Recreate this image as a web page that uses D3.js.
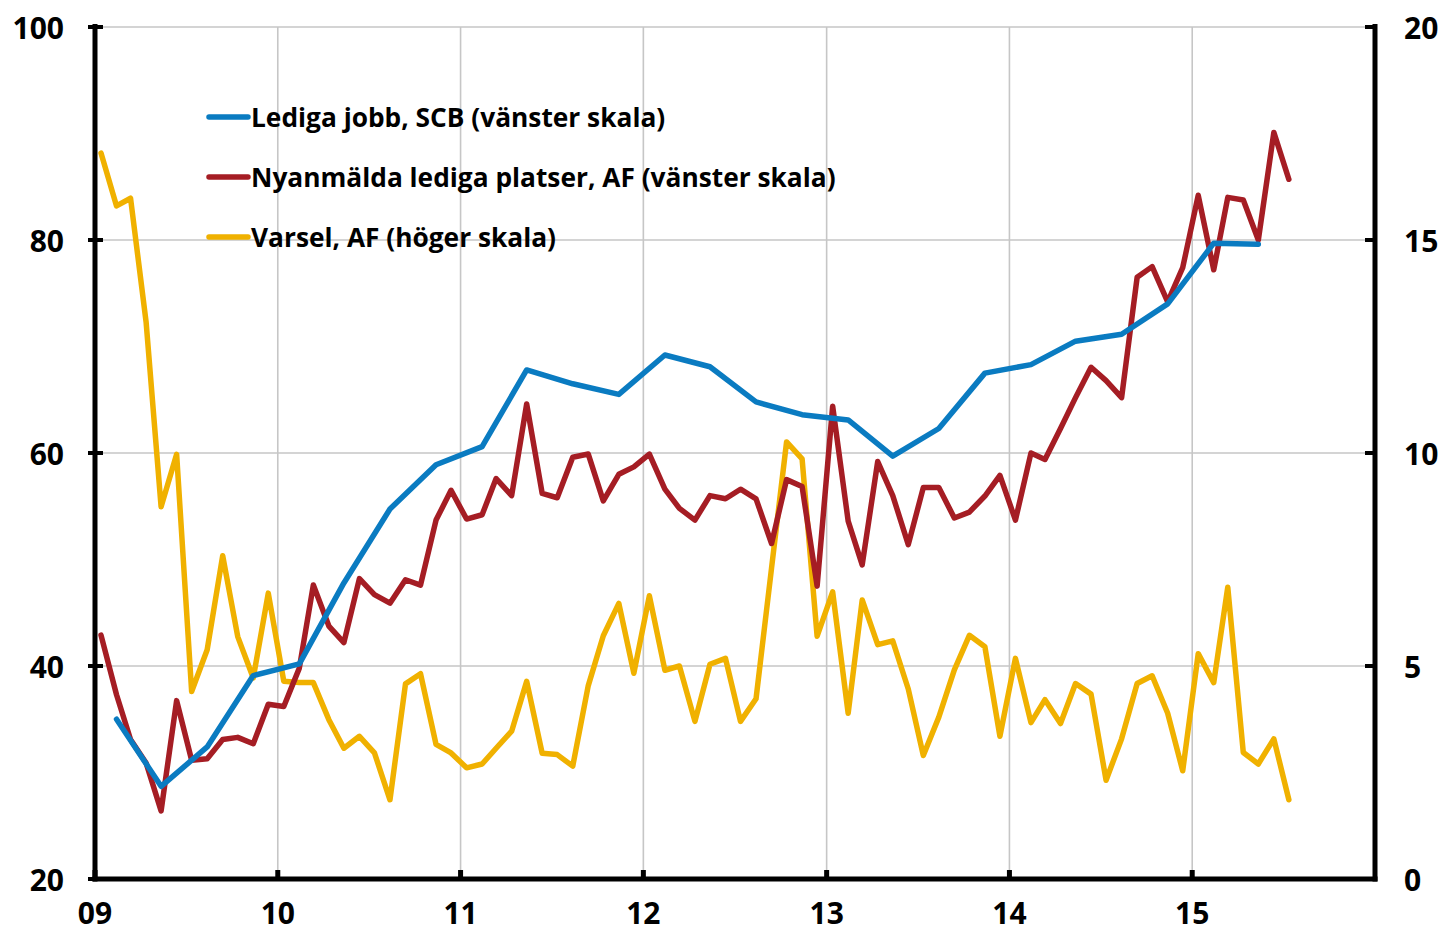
<!DOCTYPE html>
<html><head><meta charset="utf-8">
<script src="https://cdn.jsdelivr.net/npm/d3@7/dist/d3.min.js"></script>
<style>
html,body{margin:0;padding:0;background:#fff;}
svg{display:block;}
text{font-family:"Open Sans","Noto Sans",sans-serif;font-weight:700;fill:#000;}
</style></head>
<body>
<svg id="c" width="1444" height="933"></svg>
<script>
// ---- data ----
const startMonth = "2009-01";
const varsel = [17.04,15.8,15.98,13.08,8.74,9.97,4.4,5.38,7.59,5.69,4.72,6.71,
 4.64,4.61,4.61,3.74,3.07,3.35,2.96,1.86,4.58,4.82,3.16,2.96,
 2.61,2.70,3.07,3.47,4.64,2.95,2.92,2.65,4.54,5.71,6.47,4.83,
 6.65,4.9,5.0,3.70,5.04,5.18,3.70,4.23,7.3,10.26,9.86,5.7,
 6.74,3.89,6.55,5.5,5.59,4.46,2.9,3.8,4.91,5.72,5.45,3.35,
 5.18,3.67,4.21,3.65,4.59,4.34,2.32,3.29,4.59,4.77,3.89,2.54,
 5.29,4.61,6.85,2.97,2.70,3.29,1.86];
const nyanmalda = [42.9,37.3,33.1,30.9,26.4,36.75,31.15,31.3,33.1,33.3,32.7,36.4,
 36.2,39.8,47.6,43.75,42.2,48.2,46.7,45.9,48.1,47.6,53.7,56.5,
 53.8,54.2,57.6,56.0,64.6,56.2,55.8,59.6,59.9,55.5,58.0,58.7,
 59.9,56.6,54.8,53.7,56.0,55.7,56.6,55.7,51.5,57.5,56.85,47.5,
 64.4,53.6,49.5,59.2,56.0,51.4,56.75,56.75,53.9,54.45,55.96,57.9,
 53.7,60.0,59.4,62.3,65.2,68.05,66.8,65.2,76.5,77.5,74.2,77.4,
 84.2,77.2,84.0,83.75,80.0,90.1,85.7];
const quarters = ["2009Q1","2009Q2","2009Q3","2009Q4","2010Q1","2010Q2","2010Q3","2010Q4",
 "2011Q1","2011Q2","2011Q3","2011Q4","2012Q1","2012Q2","2012Q3","2012Q4",
 "2013Q1","2013Q2","2013Q3","2013Q4","2014Q1","2014Q2","2014Q3","2014Q4",
 "2015Q1","2015Q2"];
const lediga = [35.0,28.7,32.4,39.1,40.2,47.8,54.74,58.9,60.6,67.8,66.5,65.5,
 69.2,68.1,64.8,63.6,63.1,59.7,62.3,67.5,68.3,70.5,71.15,74.0,79.7,79.6];
const xTickLabels = ["09","10","11","12","13","14","15"];
const leftTicks = [20,40,60,80,100];
const rightTicks = [0,5,10,15,20];
const seriesNames = ["Lediga jobb, SCB (vänster skala)",
 "Nyanmälda lediga platser, AF (vänster skala)",
 "Varsel, AF (höger skala)"];
const colors = ["#0a7bc1","#a51d24","#f0b100"];

// ---- layout ----
const L = 95, R = 1375, T = 27, B = 879;
const svg = d3.select("#c");
const x = d3.scaleTime().domain([new Date(2009,0,1), new Date(2016,0,1)]).range([L,R]);
const yL = d3.scaleLinear().domain([20,100]).range([B,T]);
const yR = d3.scaleLinear().domain([0,20]).range([B,T]);

const [sy, sm] = startMonth.split("-").map(Number);
const monthDate = i => new Date(sy, sm-1+i, 13);
const quarterDate = q => { const y=+q.slice(0,4), n=+q.slice(5); return new Date(y,(n-1)*3+1,13); };

// gridlines
const years = d3.range(2010, 2016).map(yv => new Date(yv,0,1));
svg.append("g").selectAll("line").data(years).join("line")
  .attr("x1",d=>x(d)).attr("x2",d=>x(d)).attr("y1",T).attr("y2",B)
  .attr("stroke","#c6c6c6").attr("stroke-width",1.6);
svg.append("g").selectAll("line").data(leftTicks.filter(v=>v>20)).join("line")
  .attr("x1",L).attr("x2",R).attr("y1",d=>yL(d)).attr("y2",d=>yL(d))
  .attr("stroke","#c6c6c6").attr("stroke-width",1.6);

// series
const LW = 5.5;
const lineM = (vals, ys) => d3.line().x((d,i)=>x(monthDate(i))).y(d=>ys(d))(vals);
svg.append("path").attr("d", lineM(varsel, yR)).attr("fill","none")
  .attr("stroke",colors[2]).attr("stroke-width",LW).attr("stroke-linejoin","round").attr("stroke-linecap","round");
svg.append("path").attr("d", lineM(nyanmalda, yL)).attr("fill","none")
  .attr("stroke",colors[1]).attr("stroke-width",LW).attr("stroke-linejoin","round").attr("stroke-linecap","round");
svg.append("path").attr("d", d3.line().x((d,i)=>x(quarterDate(quarters[i]))).y(d=>yL(d))(lediga)).attr("fill","none")
  .attr("stroke",colors[0]).attr("stroke-width",LW).attr("stroke-linejoin","round").attr("stroke-linecap","round");

// axes
const axW = 5;
svg.append("line").attr("x1",L).attr("x2",L).attr("y1",T-3).attr("y2",B+2.5).attr("stroke","#000").attr("stroke-width",axW);
svg.append("line").attr("x1",R).attr("x2",R).attr("y1",T-3).attr("y2",B+2.5).attr("stroke","#000").attr("stroke-width",axW);
svg.append("line").attr("x1",L-2.5).attr("x2",R+2.5).attr("y1",B).attr("y2",B).attr("stroke","#000").attr("stroke-width",axW);

// left ticks + labels
svg.append("g").selectAll("line").data(leftTicks).join("line")
  .attr("x1",L-7).attr("x2",L+8).attr("y1",d=>yL(d)).attr("y2",d=>yL(d)).attr("stroke","#000").attr("stroke-width",4);
svg.append("g").selectAll("text").data(leftTicks).join("text")
  .attr("x",L-31).attr("y",d=>yL(d)).attr("text-anchor","end").attr("dominant-baseline","central")
  .attr("font-size",30).text(d=>d);
// right ticks + labels
svg.append("g").selectAll("line").data(rightTicks).join("line")
  .attr("x1",R-10).attr("x2",R).attr("y1",d=>yR(d)).attr("y2",d=>yR(d)).attr("stroke","#000").attr("stroke-width",4);
svg.append("g").selectAll("text").data(rightTicks).join("text")
  .attr("x",R+29).attr("y",d=>yR(d)).attr("text-anchor","start").attr("dominant-baseline","central")
  .attr("font-size",30).text(d=>d);
// bottom ticks + labels
const xt = d3.range(2009, 2016).map(yv => new Date(yv,0,1));
svg.append("g").selectAll("line").data(xt).join("line")
  .attr("x1",d=>x(d)).attr("x2",d=>x(d)).attr("y1",B-9).attr("y2",B).attr("stroke","#000").attr("stroke-width",5);
svg.append("g").selectAll("text").data(xt).join("text")
  .attr("x",d=>x(d)).attr("y",924).attr("text-anchor","middle")
  .attr("font-size",30).text((d,i)=>xTickLabels[i]);

// legend
const lg = svg.append("g");
seriesNames.forEach((name,i)=>{
  const ly = 117 + i*60;
  lg.append("line").attr("x1",209).attr("x2",248).attr("y1",ly).attr("y2",ly)
    .attr("stroke",colors[i]).attr("stroke-width",LW).attr("stroke-linecap","round");
  lg.append("text").attr("x",251).attr("y",ly).attr("dominant-baseline","central")
    .attr("font-size",26.3).text(name);
});
</script>
</body></html>
